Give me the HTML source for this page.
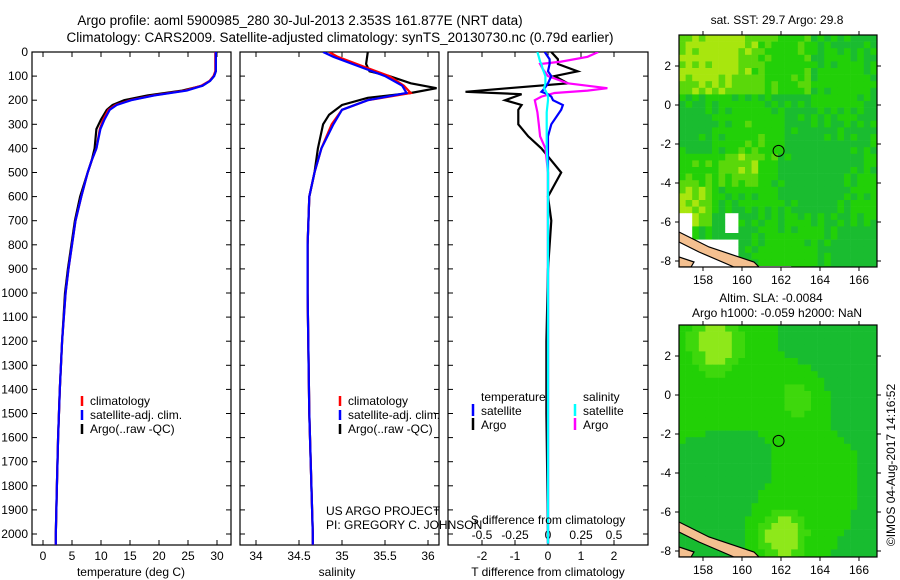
<!DOCTYPE html>
<html><head><meta charset="utf-8"><style>
body{margin:0;background:#fff;}
svg{display:block;font-family:"Liberation Sans",sans-serif;}
text{font-size:12px;fill:#000;}
</style></head><body>
<svg id="chart" width="900" height="580">
<text x="300" y="25" text-anchor="middle" style="font-size:13.5px">Argo profile: aoml 5900985_280 30-Jul-2013 2.353S 161.877E (NRT data)</text>
<text x="340" y="42" text-anchor="middle" style="font-size:13.5px">Climatology: CARS2009. Satellite-adjusted climatology: synTS_20130730.nc (0.79d earlier)</text>
<g id="g"></g>
</svg>
<script>
// ---- data ----
const argoTdepth=[0,80,100,120,140,160,180,200,220,240,280,320,400,450,500,600,700,800,900,1000,1200,1400,1600,1800,2000,2040];
const argoT=[29.8,29.8,29.5,28.8,27.5,24,18,14,12,11,10,9.2,8.9,8.4,7.7,6.4,5.5,4.9,4.3,3.8,3.3,2.9,2.6,2.4,2.2,2.2];
const climTdepth=[0,80,100,120,140,160,180,200,220,240,280,320,400,450,500,600,700,800,900,1000,1200,1400,1600,1800,2000,2045];
const climT=[29.7,29.7,29.4,28.7,27.3,24.5,19,15,12.5,11.3,10.4,9.8,9.2,8.4,7.7,6.6,5.6,5.0,4.4,3.9,3.3,2.9,2.6,2.4,2.2,2.2];
const satT=[29.8,29.8,29.5,28.8,27.5,24.8,19.2,15.2,12.7,11.5,10.6,9.9,9.2,8.4,7.7,6.6,5.6,5.0,4.4,3.9,3.3,2.9,2.6,2.4,2.2,2.2];
const argoSdepth=[0,50,80,100,130,150,170,190,220,260,300,350,400,500,600,800,1000,1500,2000,2040];
const argoS=[35.3,35.28,35.32,35.55,35.8,36.1,35.8,35.3,35.0,34.85,34.78,34.75,34.72,34.68,34.62,34.6,34.6,34.62,34.66,34.66];
const climSdepth=[0,20,60,100,140,170,200,240,300,400,500,600,800,1000,1500,2000,2045];
const climS=[34.85,34.95,35.25,35.55,35.72,35.8,35.3,35.0,34.88,34.76,34.68,34.62,34.6,34.6,34.62,34.66,34.66];
const satS=[34.78,34.9,35.2,35.5,35.7,35.75,35.3,35.0,34.9,34.76,34.68,34.62,34.6,34.6,34.62,34.66,34.66];
const dTdepth=[0,30,50,80,100,130,150,165,175,185,200,220,240,300,350,400,450,500,550,600,700,900,1200,1500,2000,2040];
const argoDT=[0.1,0.3,0.3,0.9,0.2,0.6,-1.2,-2.5,-0.8,-1.0,-1.3,-0.8,-0.9,-0.9,-0.6,-0.2,0.1,0.4,0.2,0.0,0.1,0.0,-0.05,-0.05,0.0,0.0];
const satDT=[-0.1,0.05,0.05,0.0,0.1,0.0,-0.1,-0.2,0.0,0.1,0.15,0.45,0.4,0.1,0.0,0.0,0.0,0.0,0.0,0.0,0.0,0.0,0.0,0.0,0.0,0.0];
const dSdepth=[0,20,40,50,70,100,130,150,160,170,185,200,250,300,350,400,500,700,1000,1500,2000,2040];
const argoDS=[0.38,0.3,0.1,-0.06,-0.04,0.0,0.15,0.45,0.3,0.05,-0.05,-0.1,-0.08,-0.07,-0.06,-0.02,0.0,0.0,0.0,0.0,0.0,0.0];
const satDS=[-0.08,-0.07,-0.06,-0.05,-0.04,-0.02,-0.02,-0.03,-0.02,-0.01,0.0,0.0,-0.01,-0.01,-0.01,-0.01,0.0,0.0,0.0,0.0,0.0,0.0];
const depthTicks=[0,100,200,300,400,500,600,700,800,900,1000,1100,1200,1300,1400,1500,1600,1700,1800,1900,2000];
const tTicks=[0,5,10,15,20,25,30];
const sTicks=[34,34.5,35,35.5,36];
const sTickLabels=["34","34.5","35","35.5","36"];
const dTTicks=[-2,-1,0,1,2];
const dSTicks=[-0.5,-0.25,0,0.25,0.5];
const dSTickLabels=["-0.5","-0.25","0","0.25","0.5"];
const lonTicks=[158,160,162,164,166];
const latTicks=[2,0,-2,-4,-6,-8];
const argoLon=161.877, argoLat=-2.353;

const NS='http://www.w3.org/2000/svg';
const G=document.getElementById('g');
function el(t,a,p){const e=document.createElementNS(NS,t);for(const k in a)e.setAttribute(k,a[k]);(p||G).appendChild(e);return e;}
const Y0=52,Y1=545;
const yD=d=>Y0+d*0.241;
function lin(d0,d1,p0,p1){return v=>p0+(v-d0)*(p1-p0)/(d1-d0);}
const xT=lin(0,30,43,217), xS=lin(34,36,256,428), xDT=lin(0,1,548,581), xDS=lin(0,1,548,680);
function line(xs,ds,xf,color,name,w){
  const pts=xs.map((v,i)=>xf(v).toFixed(1)+','+yD(ds[i]).toFixed(1)).join(' ');
  const e=el('polyline',{points:pts,fill:'none',stroke:color,'stroke-width':w||2.2,'clip-path':'url(#c'+name.split('-')[0]+')'});
  
  
}
const defs=el('defs',{});
[['p1',32,231],['p2',240,439],['p3',448,648]].forEach(([id,a,b])=>{const c=el('clipPath',{id:'c'+id},defs);el('rect',{x:a,y:Y0,width:b-a,height:Y1-Y0},c);});
function frame(x0,x1,name){
  const r=el('rect',{x:x0,y:Y0,width:x1-x0,height:Y1-Y0,fill:'none',stroke:'#000','stroke-width':1.2});
  
  
  depthTicks.forEach(d=>{el('line',{x1:x0,x2:x0+5,y1:yD(d),y2:yD(d),stroke:'#000'});el('line',{x1:x1-5,x2:x1,y1:yD(d),y2:yD(d),stroke:'#000'});});
}
function xticks(ticks,labels,xf,x0,x1,top){
  ticks.forEach((v,i)=>{const x=xf(v);el('line',{x1:x,x2:x,y1:Y1,y2:Y1-5,stroke:'#000'});if(top)el('line',{x1:x,x2:x,y1:Y0,y2:Y0+5,stroke:'#000'});
  const t=el('text',{x:x,y:Y1+15,'text-anchor':'middle'});t.textContent=labels[i];
  
  });
}
frame(32,231,'p1-temperature-panel');frame(240,439,'p2-salinity-panel');frame(448,648,'p3-difference-panel');
depthTicks.forEach(d=>{const t=el('text',{x:28,y:yD(d)+4,'text-anchor':'end'});t.textContent=d;
  
  });
xticks(tTicks,tTicks.map(String),xT,32,231,true);
xticks(sTicks,sTickLabels,xS,240,439,true);
xticks(dTTicks,dTTicks.map(String),xDT,448,648,false);
dSTicks.forEach((v,i)=>{const x=xDS(v);el('line',{x1:x,x2:x,y1:Y0,y2:Y0+5,stroke:'#000'});const t=el('text',{x:x,y:539,'text-anchor':'middle'});t.textContent=dSTickLabels[i];
  
  });
line(argoT,argoTdepth,xT,'#000','p1-argo-temperature');
line(climT,climTdepth,xT,'#f00','p1-clim-temperature');
line(satT,climTdepth,xT,'#00f','p1-sat-temperature');
line(argoS,argoSdepth,xS,'#000','p2-argo-salinity');
line(climS,climSdepth,xS,'#f00','p2-clim-salinity');
line(satS,climSdepth,xS,'#00f','p2-sat-salinity');
line(argoDT,dTdepth,xDT,'#000','p3-argo-tdiff');
line(argoDS,dSdepth,xDS,'#f0f','p3-argo-sdiff');
line(satDT,dTdepth,xDT,'#00f','p3-sat-tdiff');
line(satDS,dSdepth,xDS,'#0ff','p3-sat-sdiff');
function txt(x,y,s,name,anchor){const t=el('text',{x:x,y:y,'text-anchor':anchor||'start'});t.textContent=s;
  
  return t;}
txt(131,576,'temperature (deg C)','x-axis-title-temperature','middle');
txt(337,576,'salinity','x-axis-title-salinity','middle');
txt(548,576,'T difference from climatology','x-axis-title-tdiff','middle');
txt(548,524,'S difference from climatology','axis-title-sdiff','middle');
txt(326,515,'US ARGO PROJECT','credit-project');
txt(326,529,'PI: GREGORY C. JOHNSON','credit-pi');
[[82,'p1'],[340,'p2']].forEach(([x,p])=>{
  [['#f00','climatology'],['#00f','satellite-adj. clim.'],['#000','Argo(..raw -QC)']].forEach(([c,s],i)=>{
    const y=402+i*14;el('line',{x1:x,x2:x,y1:y-6,y2:y+4,stroke:c,'stroke-width':2.5});txt(x+8,y+3,s,p+'-legend-entry');
  });
});
txt(481,401,'temperature','legend-header-temperature');txt(583,401,'salinity','legend-header-salinity');
[['#00f',473,'satellite',412],['#000',473,'Argo',426],['#0ff',575,'satellite',412],['#f0f',575,'Argo',426]].forEach(([c,x,s,y])=>{
  el('line',{x1:x,x2:x,y1:y-8,y2:y+4,stroke:c,'stroke-width':2.5});txt(x+8,y+3,s,'p3-legend-entry');
});
// ---- maps ----
function map(top,bot,kind){
  const x0=679,x1=877,latTop=3.59,lonL=156.77,ppd=19.5;
  const xl=lo=>x0+(lo-lonL)*ppd, yl=la=>top+(latTop-la)*ppd;
  const cp=el('clipPath',{id:'m'+kind},defs);el('rect',{x:x0,y:top,width:x1-x0,height:bot-top},cp);
  const g=el('g',{'clip-path':'url(#m'+kind+')'});
  const cs=6.6;
  for(let yy=top;yy<bot;yy+=cs)for(let xx=x0;xx<x1;xx+=cs){
    const u=(xx-x0)/(x1-x0),v=(yy-top)/(bot-top);
    let c;
    if(kind==='sst'){
      let h=0.5*Math.sin(u*9+v*3)*Math.cos(v*8-u*2)+0.35*Math.sin(xx*0.9+yy*1.3)*Math.sin(xx*0.5-yy*0.7);
      h+=(v<0.25&&u<0.65?0.9:0)+(v>0.5&&v<0.65&&u<0.4?0.5:0)+(v>0.65&&v<0.8&&u<0.15?0.9:0)-(u>0.5?0.25:0);
      c=h>1.0?'#a8e60e':h>0.55?'#5ad80a':h>-0.15?'#22d008':'#1abc30';
      if((v>0.86&&u<0.27)||(v>0.97&&u<0.55)||(v>0.75&&u<0.05)||(u>0.23&&u<0.3&&v>0.75&&v<0.83)) c='#fff';
    } else {
      const h=0.3*Math.sin(u*5+1)*Math.cos(v*4)+Math.exp(-((u-0.5)**2+(v-0.9)**2)*60)*1.5+Math.exp(-((u-0.18)**2+(v-0.07)**2)*80)*1.2+Math.exp(-((u-0.58)**2+(v-0.3)**2)*80)*0.9-0.5*v*u;
      c=h>0.9?'#8ee81a':h>0.45?'#3ed80c':h>-0.1?'#22d006':'#18bc30';
    }
    el('rect',{x:xx,y:yy,width:cs+0.3,height:cs+0.3,fill:c},g);
  }
  el('path',{d:`M${x0} ${bot-35} L${x0+30} ${bot-20} L${x0+75} ${bot-5} L${x0+80} ${bot} L${x0+55} ${bot} L${x0+20} ${bot-15} L${x0} ${bot-25}Z`,fill:'#f4c090',stroke:'#000','stroke-width':1.2},g);
  el('path',{d:`M${x0} ${bot-10} L${x0+15} ${bot-5} L${x0+12} ${bot} L${x0} ${bot}Z`,fill:'#f4c090',stroke:'#000','stroke-width':1.2},g);
  const ci=el('circle',{cx:xl(argoLon),cy:yl(argoLat),r:5.5,fill:'none',stroke:'#000','stroke-width':1});
  
  
  el('rect',{x:x0,y:top,width:x1-x0,height:bot-top,fill:'none',stroke:'#000','stroke-width':1.2});
  lonTicks.forEach(lo=>{const x=xl(lo);el('line',{x1:x,x2:x,y1:top,y2:top-4,stroke:'#000'});el('line',{x1:x,x2:x,y1:bot,y2:bot+4,stroke:'#000'});txt(x,bot+17,String(lo),'lon-tick-label','middle');});
  latTicks.forEach(la=>{const y=yl(la);el('line',{x1:x0,x2:x0-4,y1:y,y2:y,stroke:'#000'});el('line',{x1:x1,x2:x1+4,y1:y,y2:y,stroke:'#000'});txt(x0-8,y+4,String(la),'lat-tick-label','end');});
}
map(35,267,'sst');map(325,557,'sla');
txt(777,24,'sat. SST: 29.7 Argo: 29.8','sst-map-title','middle');
txt(771,302,'Altim. SLA: -0.0084','sla-map-title','middle');
txt(777,317,'Argo h1000: -0.059 h2000: NaN','sla-map-subtitle','middle');
const cr=txt(0,0,'©IMOS 04-Aug-2017 14:16:52','copyright-timestamp','middle');
cr.setAttribute('transform','translate(895,465) rotate(-90)');
</script>
</body></html>
